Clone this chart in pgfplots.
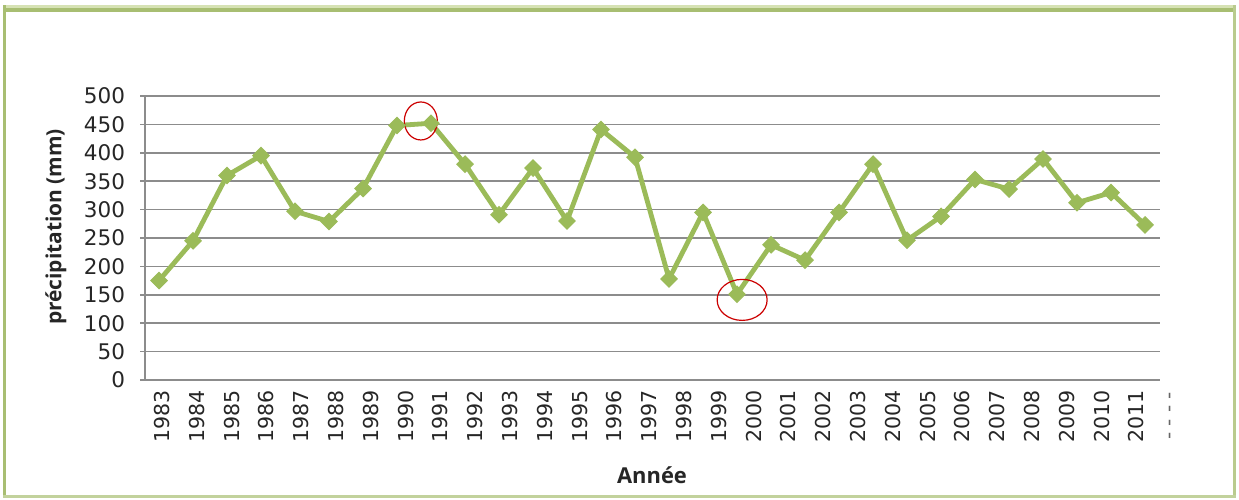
\documentclass[border=0pt]{standalone}
\usepackage{pgfplots}
\pgfplotsset{compat=1.18}
\usepackage{fontspec}
\setmainfont{DejaVu Sans}
\newfontfamily\osfont{Open Sans}
\definecolor{olivegreen}{HTML}{9BBB59}
\definecolor{gridgray}{HTML}{8C8C8C}
\definecolor{bordergreen}{HTML}{A8BE72}
\definecolor{borderlight}{HTML}{D6E2B4}
\pgfplotstableread{
x y
0 175
1 245
2 360
3 395
4 297
5 279
6 337
7 448
8 452
9 380
10 291
11 373
12 280
13 441
14 392
15 178
16 295
17 151
18 238
19 211
20 295
21 380
22 246
23 288
24 353
25 336
26 389
27 312
28 330
29 273
}\precip
\begin{document}
\begin{tikzpicture}[x=0.5bp,y=0.5bp]
\fill[white] (0,0) rectangle (1239,500);
\useasboundingbox (0,0) rectangle (1239,500);
\begin{axis}[
  at={(72.5bp,60bp)}, anchor=south west,
  scale only axis, width=507.5bp, height=142bp,
  xmin=-0.412, xmax=29.441, ymin=0, ymax=500,
  ytick={0,50,...,500},
  ymajorgrids, grid style={gridgray, line width=0.75bp},
  axis x line*=bottom, axis y line*=left,
  axis line style={gridgray, line width=0.75bp},
  xtick={0.088,1.112,2.135,3.159,4.182,5.206,6.229,7.253,8.276,9.300,10.323,11.347,12.370,13.394,14.417,15.441,16.464,17.488,18.511,19.535,20.558,21.582,22.605,23.629,24.652,25.676,26.699,27.723,28.746},
  xticklabels={1983,1984,1985,1986,1987,1988,1989,1990,1991,1992,1993,1994,1995,1996,1997,1998,1999,2000,2001,2002,2003,2004,2005,2006,2007,2008,2009,2010,2011},
  x tick label style={rotate=90, anchor=east, font=\fontsize{10.3}{12}\selectfont, text=black!85, inner sep=2.5bp},
  xtick style={draw=none},
  tick align=outside, major tick length=2.5bp,
  ytick style={gridgray, line width=0.75bp},
  y tick label style={font=\fontsize{10.8}{12}\selectfont, text=black!85, /pgf/number format/assume math mode=true, xshift=-4bp},
  xlabel={\osfont\bfseries Année},
  ylabel={\osfont\bfseries précipitation (mm)},
  xlabel style={at={(axis description cs:0.4995,-0.3627)}, anchor=base, font=\fontsize{11}{13}\selectfont, text=black!85},
  ylabel style={at={(axis description cs:-0.0877,0.539)}, anchor=center, rotate=0, font=\fontsize{10.5}{13}\selectfont, text=black!85},
  clip=false,
]
\addplot[olivegreen, line width=2.4bp, mark=square*, mark size=2.9bp, mark options={rotate=45, fill=olivegreen, draw=olivegreen, line width=0.5bp}] table[x=x,y=y] {\precip};
\draw[red!80!black, line width=0.6bp] (axis cs:7.70,456) ellipse [x radius=8.25bp, y radius=9.5bp];
\draw[red!80!black, line width=0.6bp] (axis cs:17.15,141) ellipse [x radius=12.5bp, y radius=10.25bp];
\end{axis}
\node[rotate=90, anchor=east, font=\fontsize{10}{12}\selectfont, text=black!60] at (1172,115) {- - - -};
% outer border
\fill[borderlight] (3,492) rectangle (1236,495);
\fill[bordergreen] (3,488) rectangle (1236,492);
\fill[bordergreen] (3,2) rectangle (6,495);
\fill[bordergreen!80] (1233,2) rectangle (1236,495);
\fill[bordergreen!70] (3,2) rectangle (1236,5);
\end{tikzpicture}
\end{document}
